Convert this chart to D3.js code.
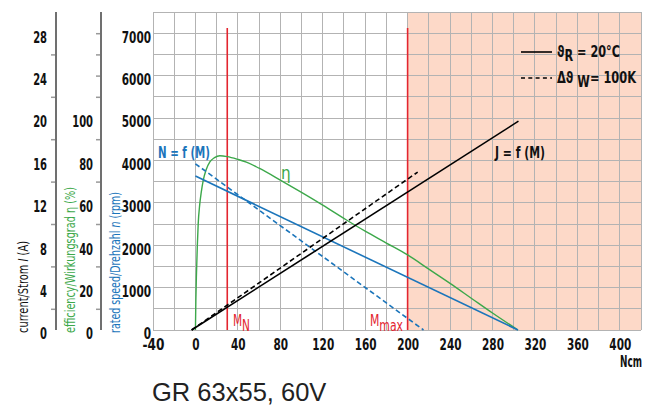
<!DOCTYPE html>
<html><head><meta charset="utf-8">
<script src="https://cdn.jsdelivr.net/npm/d3@7"></script>
<style>
body{margin:0;background:#fff;}
svg{display:block;}
.cf{font-family:"Liberation Sans Narrow","Arial Narrow","DejaVu Sans Condensed",sans-serif;}
</style>
</head><body>
<svg id="c" width="649" height="407"></svg>
<script>
// ---- data ----
const torqueTicks = [-40,0,40,80,120,160,200,240,280,320,360,400];
const speedTicks = [0,1000,2000,3000,4000,5000,6000,7000];
const currentTicks = [0,4,8,12,16,20,24,28];
const effTicks = [0,20,40,60,80,100];
const markers = [{m:30, label:"M", sub:"N"}, {m:200, label:"M", sub:"max"}];

// speed n (rpm) vs torque M (Ncm)
const speedM = [0, 304];
const speedN = [3630, 0];
const speedHotM = [0, 215];
const speedHotN = [3920, 0];
// current I (A) vs torque
const currentM = [-3.6, 304.5];
const currentI = [0, 19.7];
const currentHotM = [-3.6, 209.5];
const currentHotI = [0, 14.9];
// efficiency eta (%) vs torque
const effM   = [0, 0.4, 1, 1.8, 2.6, 4, 5.5, 7.4, 10, 13.6, 18, 23, 30, 40, 48, 60, 80, 100, 120, 142, 160, 180, 200, 220, 240, 260, 280, 304];
const effEta = [0, 14, 27, 40, 50, 59, 65, 70.7, 75.5, 79.3, 81.3, 82.2, 81.8, 80.5, 79.2, 76.3, 70.7, 64.9, 58.9, 52, 46.6, 41, 35.4, 28.7, 22, 15, 8, 0];

// ---- layout ----
const svg = d3.select("#c");
const L=153, R=641, T=12, B=330;
const x = d3.scaleLinear().domain([-40,420]).range([L,R]);
const y = d3.scaleLinear().domain([0,7500]).range([B,T]);
const yI = d3.scaleLinear().domain([0,30]).range([B,T]);
const yE = d3.scaleLinear().domain([0,150]).range([B,T]);

const red="#e3252f", blue="#1b75bb", green="#3ca84a", grid="#b3b3b3";
const FS = 16, PER = 7.3;
function narrow(sel, per){ sel.each(function(){ const n=this.textContent.length; d3.select(this).attr("textLength", n*per).attr("lengthAdjust","spacingAndGlyphs"); }); }

// shaded overload region
svg.append("rect").attr("x",x(200)).attr("y",T).attr("width",x(420)-x(200)).attr("height",B-T).attr("fill","#fdd9c8");

// grid
const g = svg.append("g");
g.selectAll("line.v").data(d3.range(-40,421,20)).join("line")
  .attr("x1",d=>x(d)).attr("x2",d=>x(d)).attr("y1",T).attr("y2",B)
  .attr("stroke",grid).attr("stroke-width",1).attr("shape-rendering","crispEdges");
g.selectAll("line.h").data(d3.range(0,7501,500)).join("line")
  .attr("x1",L).attr("x2",R).attr("y1",d=>y(d)).attr("y2",d=>y(d))
  .attr("stroke",grid).attr("stroke-width",1).attr("shape-rendering","crispEdges");

// marker lines
svg.selectAll("line.mk").data(markers).join("line")
  .attr("x1",d=>x(d.m)).attr("x2",d=>x(d.m)).attr("y1",y(7120)).attr("y2",B)
  .attr("stroke",red).attr("stroke-width",1.6);

// curves
const lineN = d3.line().x(d=>x(d[0])).y(d=>y(d[1]));
const lineI = d3.line().x(d=>x(d[0])).y(d=>yI(d[1]));
const lineE = d3.line().x(d=>x(d[0])).y(d=>yE(d[1])).curve(d3.curveMonotoneX);

svg.append("path").attr("d",lineE(d3.zip(effM,effEta))).attr("fill","none").attr("stroke",green).attr("stroke-width",1.4);
svg.append("path").attr("d",lineN(d3.zip(speedM,speedN))).attr("fill","none").attr("stroke",blue).attr("stroke-width",1.6);
svg.append("path").attr("d",lineN(d3.zip(speedHotM,speedHotN))).attr("fill","none").attr("stroke",blue).attr("stroke-width",1.6).attr("stroke-dasharray","5,3");
svg.append("path").attr("d",lineI(d3.zip(currentM,currentI))).attr("fill","none").attr("stroke","#000").attr("stroke-width",1.6);
svg.append("path").attr("d",lineI(d3.zip(currentHotM,currentHotI))).attr("fill","none").attr("stroke","#000").attr("stroke-width",1.6).attr("stroke-dasharray","5,3");

// x axis labels
const xa = d3.axisBottom(x).tickValues(torqueTicks).tickSize(0).tickFormat(d3.format("d"));
const gx = svg.append("g").attr("transform",`translate(0,${B})`).call(xa);
gx.select(".domain").remove();
gx.selectAll("text").text(d=>String(d)).attr("class","cf").attr("y",20).attr("dy",0)
  .attr("font-size",FS).attr("font-weight","bold").attr("fill","#111").call(narrow, PER);

// rpm axis labels
const ya = d3.axisLeft(y).tickValues(speedTicks).tickSize(0).tickFormat(d3.format("d"));
const gy = svg.append("g").attr("transform",`translate(${L-2},0)`).call(ya);
gy.select(".domain").remove();
gy.selectAll("text").attr("class","cf").attr("x",0).attr("dy","0.55em")
  .attr("font-size",FS).attr("font-weight","bold").attr("fill","#111").call(narrow, PER);

// side axes
function sideAxis(scale, xpos, labels, minor, labelX){
  const gA = svg.append("g");
  gA.append("line").attr("x1",xpos).attr("x2",xpos).attr("y1",T).attr("y2",B).attr("stroke","#707070").attr("stroke-width",2);
  const mi = d3.axisLeft(scale).tickValues(minor).tickSize(4).tickFormat("");
  const gm = gA.append("g").attr("transform",`translate(${xpos-1},0)`).call(mi);
  gm.select(".domain").remove();
  gm.selectAll("line").attr("stroke","#999").attr("stroke-width",1.5);
  const la = d3.axisLeft(scale).tickValues(labels).tickSize(0).tickFormat(d3.format("d"));
  const gl = gA.append("g").attr("transform",`translate(${labelX},0)`).call(la);
  gl.select(".domain").remove();
  gl.selectAll("text").attr("class","cf").attr("x",0).attr("dy","0.55em")
    .attr("font-size",FS).attr("font-weight","bold").attr("fill","#111").call(narrow, PER*0.95);
}
sideAxis(yI, 56, currentTicks, d3.range(2,29,4), 47);
sideAxis(yE, 101, effTicks, d3.range(10,141,10).filter(v=>v>100||v%20!==0), 93);

// rotated axis titles
function vTitle(xc, color, parts, len){
  const t = svg.append("text").attr("class","cf").attr("transform",`translate(${xc},333) rotate(-90)`)
    .attr("font-size",13.5).attr("fill",color).attr("dominant-baseline","central");
  parts.forEach(p=>t.append("tspan").text(p.t).attr("font-style",p.i?"italic":null));
  if(len) t.attr("textLength",len).attr("lengthAdjust","spacingAndGlyphs");
}
vTitle(23, "#111", [{t:"current/Strom "},{t:"I",i:1},{t:" (A)"}], 92);
vTitle(70, green, [{t:"efficiency/Wirkungsgrad η (%)"}], 146);
vTitle(115, blue, [{t:"rated speed/Drehzahl "},{t:"n",i:1},{t:" (rpm)"}], 141);

// curve labels
function lab(xp, yp, txt, color, len, fs, bold, anchor){
  const t = svg.append("text").attr("class","cf").attr("x",xp).attr("y",yp).attr("font-size",fs||15)
    .attr("font-weight",bold?"bold":null).attr("fill",color).attr("text-anchor",anchor||null).text(txt);
  if(len) t.attr("textLength",len).attr("lengthAdjust","spacingAndGlyphs");
  return t;
}
lab(158, 158, "N = f (M)", blue, 52, 15, true);
lab(281, 179, "η", green, null, 17, false);
lab(495, 158, "J = f (M)", "#111", 50, 15, true);

// marker labels
const mlx = [233, 370], mlw = [17, 33];
markers.forEach((d,i)=>{
  const t = svg.append("text").attr("class","cf").attr("x",mlx[i]).attr("y",326).attr("font-size",16).attr("fill",red)
    .attr("textLength",mlw[i]).attr("lengthAdjust","spacingAndGlyphs");
  t.append("tspan").text(d.label);
  t.append("tspan").attr("dy",5).text(d.sub);
});

// legend
const lg = svg.append("g");
lg.append("line").attr("x1",521).attr("x2",552).attr("y1",52).attr("y2",52).attr("stroke","#000").attr("stroke-width",1.6);
lg.append("line").attr("x1",521).attr("x2",552).attr("y1",78).attr("y2",78).attr("stroke","#000").attr("stroke-width",1.6).attr("stroke-dasharray","4,3.3");
const t1 = lg.append("text").attr("class","cf").attr("x",557).attr("y",57).attr("font-size",15).attr("font-weight","bold").attr("fill","#111")
  .attr("textLength",63).attr("lengthAdjust","spacingAndGlyphs");
t1.append("tspan").text("ϑ"); t1.append("tspan").attr("dy",4).text("R"); t1.append("tspan").attr("dy",-4).text(" = 20°C");
const t2 = lg.append("text").attr("class","cf").attr("x",557).attr("y",83).attr("font-size",15).attr("font-weight","bold").attr("fill","#111")
  .attr("textLength",79).attr("lengthAdjust","spacingAndGlyphs");
t2.append("tspan").text("Δϑ "); t2.append("tspan").attr("dy",4).text("W"); t2.append("tspan").attr("dy",-4).text("= 100K");

// unit
lab(642, 367, "Ncm", "#111", 22, 15, true, "end");

// title
svg.append("text").attr("x",152).attr("y",401).attr("font-family","'Liberation Sans',Arial,sans-serif").attr("font-size",25.5).attr("fill","#222").text("GR 63x55, 60V");
</script>
</body></html>
